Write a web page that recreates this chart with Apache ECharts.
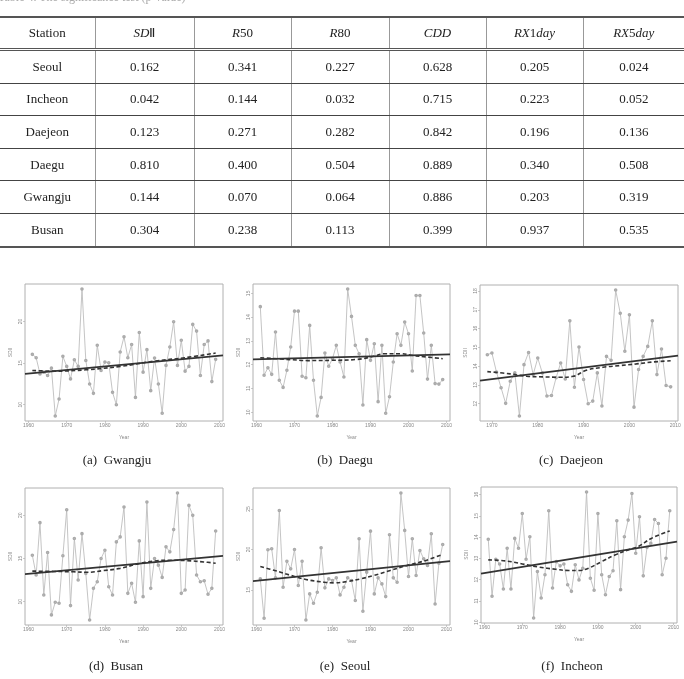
<!DOCTYPE html>
<html><head><meta charset="utf-8">
<script src="https://cdn.jsdelivr.net/npm/echarts@6.0.0/dist/echarts.min.js"></script>
<style>
html,body{margin:0;padding:0;background:#fff;width:684px;height:679px;overflow:hidden;}
#chart{position:absolute;left:0;top:0;width:684px;height:679px;}
#cap{position:absolute;left:-2px;top:-10px;font:12px 'Liberation Serif',serif;color:#aaa;white-space:nowrap;}
#tbl{position:absolute;left:0;top:16px;width:684px;border-collapse:collapse;font-family:'Liberation Serif',serif;font-size:13px;color:#222;table-layout:fixed;}
#tbl th,#tbl td{text-align:center;padding:0;border-left:1px solid #999;}
#tbl th:first-child,#tbl td:first-child{border-left:none;}
#tbl th{font-weight:normal;height:30px;border-top:2px solid #555;border-bottom:3px double #555;}
#tbl td{height:31.6px;border-bottom:1px solid #444;}
#tbl tr:last-child td{border-bottom:2px solid #555;}
#tbl i{font-style:italic;}
</style>
</head><body>
<div id="chart"></div>
<div id="cap">Table 4. The significance test (p-value)</div>
<table id="tbl"></table>
<script>
// ---------- table data ----------
const stations = ['Seoul','Incheon','Daejeon','Daegu','Gwangju','Busan'];
const pSDII  = ['0.162','0.042','0.123','0.810','0.144','0.304'];
const pR50   = ['0.341','0.144','0.271','0.400','0.070','0.238'];
const pR80   = ['0.227','0.032','0.282','0.504','0.064','0.113'];
const pCDD   = ['0.628','0.715','0.842','0.889','0.886','0.399'];
const pRX1   = ['0.205','0.223','0.196','0.340','0.203','0.937'];
const pRX5   = ['0.024','0.052','0.136','0.508','0.319','0.535'];
const headers = ['Station','<i>SD</i>Ⅱ','<i>R</i>50','<i>R</i>80','<i>CDD</i>','<i>RX</i>1<i>day</i>','<i>RX</i>5<i>day</i>'];
const colWidths = [95,99,97,98,97,97,101];

// ---------- chart data ----------
const yearsFull = [1961,1962,1963,1964,1965,1966,1967,1968,1969,1970,1971,1972,1973,1974,1975,1976,1977,1978,1979,1980,
  1981,1982,1983,1984,1985,1986,1987,1988,1989,1990,1991,1992,1993,1994,1995,1996,1997,1998,1999,2000,
  2001,2002,2003,2004,2005,2006,2007,2008,2009];
const yearsDaejeon = yearsFull.slice(8);
const xTicksFull = [1960,1970,1980,1990,2000,2010];
const xTicksDaejeon = [1970,1980,1990,2000,2010];

const sdiiGwangju = [16.05,15.65,13.70,13.91,13.50,14.39,8.64,10.67,15.81,14.60,13.10,15.40,14.60,23.91,15.32,12.49,11.36,17.15,14.11,15.12,
  15.04,11.48,9.98,16.34,18.16,15.65,17.23,10.87,18.68,13.91,16.62,11.68,15.61,12.49,8.97,14.72,16.94,19.98,14.72,17.75,
  14.03,14.60,19.66,18.85,13.50,17.23,17.67,12.77,15.45];
const trendGwangju = [13.70,15.93];
const loessYearsGwangju = [1961,1967,1975,1984,1993,2001,2009];
const loessGwangju = [14.11,14.03,14.19,14.60,15.24,15.65,16.21];

const sdiiDaegu = [14.44,11.55,11.87,11.59,13.37,11.34,11.04,11.76,12.74,14.25,14.25,11.51,11.45,13.65,11.34,9.84,10.62,12.49,11.93,12.25,
  12.81,12.11,11.48,15.18,14.03,12.81,12.46,10.30,13.05,12.18,12.88,10.44,12.81,9.95,10.65,12.11,13.30,12.81,13.79,13.30,
  11.73,14.91,14.91,13.33,11.39,12.81,11.20,11.18,11.37];
const trendDaegu = [12.22,12.43];
const loessYearsDaegu = [1961,1969,1973.5,1979.6,1986.5,1990.9,1993.5,1997.8,2001.3,2004.8,2009];
const loessDaegu = [12.29,12.21,12.17,12.18,12.22,12.35,12.46,12.46,12.38,12.32,12.25];

const sdiiDaejeon = [14.61,14.70,13.68,12.85,12.02,13.20,13.64,11.35,14.08,14.73,13.55,14.43,13.64,12.41,12.44,13.38,14.17,13.32,16.41,12.88,
  15.02,13.29,12.00,12.14,13.64,11.88,14.52,14.31,18.05,16.81,14.79,16.73,11.82,13.82,14.52,15.05,16.41,13.55,14.91,12.97,12.90];
const trendDaejeon = [13.23,14.56];
const loessYearsDaejeon = [1969,1974,1977.6,1981.2,1984.8,1987.7,1990.6,1994.2,1997.8,2001.5,2005.1,2009];
const loessDaejeon = [13.71,13.59,13.46,13.43,13.41,13.46,13.78,13.94,14.03,14.12,14.22,14.29];

const sdiiBusan = [15.38,13.08,19.15,10.77,15.69,8.46,9.92,9.81,15.31,20.65,9.54,17.31,12.50,17.88,13.27,7.88,11.54,12.31,15.00,15.96,
  11.73,10.77,16.92,17.50,20.96,10.96,12.12,9.92,17.04,10.58,21.54,11.54,15.00,14.23,12.81,16.35,15.77,18.35,22.58,10.96,
  11.35,21.15,20.00,13.08,12.31,12.42,10.85,11.54,18.19];
const trendBusan = [13.19,15.31];
const loessYearsBusan = [1961,1966.6,1971.8,1975.3,1979.7,1984,1988.4,1992.8,1997.2,2001.5,2005.9,2009];
const loessBusan = [13.54,13.50,13.46,13.40,13.60,13.85,14.35,14.70,14.80,14.75,14.60,14.45];

const sdiiSeoul = [16.36,11.49,19.96,20.08,16.49,24.83,15.33,18.55,17.60,20.00,15.54,18.55,11.28,14.50,13.35,14.71,20.21,15.25,16.36,16.16,
  16.49,14.38,15.33,16.49,16.16,13.68,21.32,12.36,17.19,22.27,14.50,16.49,15.74,14.17,21.82,16.49,15.95,26.98,22.36,16.65,
  21.32,16.78,19.88,18.84,18.02,21.94,13.26,18.31,20.62];
const trendSeoul = [16.07,18.55];
const loessYearsSeoul = [1961,1964.8,1969.1,1973.5,1977.8,1980.4,1983.9,1987.4,1990.9,1995.2,1999.6,2003.9,2009];
const loessSeoul = [17.89,17.40,16.78,16.24,15.95,15.87,16.03,16.36,16.78,17.40,18.02,18.55,19.38];

const sdiiIncheon = [13.90,11.22,12.96,12.74,11.56,13.48,11.56,13.94,13.48,15.11,12.96,14.02,10.20,12.38,11.14,12.23,15.24,11.61,12.85,12.65,
  12.74,11.76,11.45,12.70,11.99,12.54,16.12,12.07,11.50,15.11,12.23,11.29,12.15,12.42,14.77,11.53,14.02,14.80,16.05,13.24,
  14.96,12.18,13.52,13.71,14.83,14.64,12.23,13.01,15.24];
const trendIncheon = [12.28,13.79];
const loessYearsIncheon = [1961,1965.7,1970,1974.4,1978.8,1982.3,1984.9,1987.5,1991,1994.5,1998,2000.6,2004.1,2009];
const loessIncheon = [12.93,12.88,12.74,12.59,12.49,12.43,12.43,12.54,12.85,13.16,13.40,13.55,13.94,14.29];

// ---------- build table ----------
(function(){
  const t = document.getElementById('tbl');
  let h = '<colgroup>' + colWidths.map(w=>'<col style="width:'+w+'px">').join('') + '</colgroup>';
  h += '<tr>' + headers.map(x=>'<th>'+x+'</th>').join('') + '</tr>';
  stations.forEach((s,i)=>{
    h += '<tr><td>'+s+'</td><td>'+pSDII[i]+'</td><td>'+pR50[i]+'</td><td>'+pR80[i]+'</td><td>'+pCDD[i]+'</td><td>'+pRX1[i]+'</td><td>'+pRX5[i]+'</td></tr>';
  });
  t.innerHTML = h;
})();

// ---------- panels ----------
const panels = [
  {cap:'(a)  Gwangju', years:yearsFull, vals:sdiiGwangju, trend:trendGwangju, ly:loessYearsGwangju, lv:loessGwangju, xt:xTicksFull, yt:[10,15,20],
   grid:{left:25,top:284,width:198,height:137}, cx:117, cy:461},
  {cap:'(b)  Daegu', years:yearsFull, vals:sdiiDaegu, trend:trendDaegu, ly:loessYearsDaegu, lv:loessDaegu, xt:xTicksFull, yt:[10,11,12,13,14,15],
   grid:{left:253,top:284,width:197,height:137}, cx:345, cy:461},
  {cap:'(c)  Daejeon', years:yearsDaejeon, vals:sdiiDaejeon, trend:trendDaejeon, ly:loessYearsDaejeon, lv:loessDaejeon, xt:xTicksDaejeon, yt:[12,13,14,15,16,17,18],
   grid:{left:480,top:285,width:198,height:136}, cx:571, cy:461},
  {cap:'(d)  Busan', years:yearsFull, vals:sdiiBusan, trend:trendBusan, ly:loessYearsBusan, lv:loessBusan, xt:xTicksFull, yt:[10,15,20],
   grid:{left:25,top:488,width:198,height:137}, cx:116, cy:667},
  {cap:'(e)  Seoul', years:yearsFull, vals:sdiiSeoul, trend:trendSeoul, ly:loessYearsSeoul, lv:loessSeoul, xt:xTicksFull, yt:[15,20,25],
   grid:{left:253,top:488,width:197,height:137}, cx:345, cy:667},
  {cap:'(f)  Incheon', years:yearsFull, vals:sdiiIncheon, trend:trendIncheon, ly:loessYearsIncheon, lv:loessIncheon, xt:xTicksFull, yt:[10,11,12,13,14,15,16],
   grid:{left:481,top:487,width:196,height:136}, cx:572, cy:667}
];

function ext(arr){ const mn=Math.min(...arr), mx=Math.max(...arr), p=(mx-mn)*0.04; return [mn-p, mx+p]; }

const grids=[], xAxes=[], yAxes=[], series=[], graphics=[];
const lab = {fontSize:5, color:'#888', fontFamily:'Liberation Sans'};
panels.forEach((p,i)=>{
  grids.push(Object.assign({show:true, borderColor:'#b0b0b0', borderWidth:1, containLabel:false}, p.grid));
  const xr = ext(p.years), yr = ext(p.vals);
  xAxes.push({type:'value', gridIndex:i, min:xr[0], max:xr[1],
    axisLine:{show:false}, splitLine:{show:false},
    axisTick:{show:true, length:2, lineStyle:{color:'#aaa', width:0.6}, customValues:p.xt},
    axisLabel:Object.assign({customValues:p.xt, margin:2, formatter:v=>String(v)}, lab),
    name:'Year', nameLocation:'middle', nameGap:14, nameTextStyle:lab});
  yAxes.push({type:'value', gridIndex:i, min:yr[0], max:yr[1],
    axisLine:{show:false}, splitLine:{show:false},
    axisTick:{show:true, length:2, lineStyle:{color:'#aaa', width:0.6}, customValues:p.yt},
    axisLabel:Object.assign({customValues:p.yt, margin:2, rotate:90, formatter:v=>String(v)}, lab),
    name:'SDII', nameLocation:'middle', nameGap:12, nameRotate:90, nameTextStyle:lab});
  series.push({type:'line', xAxisIndex:i, yAxisIndex:i, data:p.years.map((y,j)=>[y,p.vals[j]]),
    symbol:'emptyCircle', symbolSize:1.6, showSymbol:true,
    lineStyle:{color:'#bdbdbd', width:0.9}, itemStyle:{color:'#aaa', borderWidth:0.5}, silent:true, z:2});
  series.push({type:'line', xAxisIndex:i, yAxisIndex:i, data:[[xr[0],p.trend[0]],[xr[1],p.trend[1]]],
    symbol:'none', lineStyle:{color:'#333', width:1.8}, silent:true, z:3});
  series.push({type:'line', xAxisIndex:i, yAxisIndex:i, data:p.ly.map((y,j)=>[y,p.lv[j]]), smooth:0.4,
    symbol:'none', lineStyle:{color:'#333', width:1.6, type:[4,2.5]}, silent:true, z:4});
  graphics.push({type:'text', x:p.cx, y:p.cy, style:{text:p.cap, fill:'#222', font:'13px "Liberation Serif"', textAlign:'center', textVerticalAlign:'middle'}});
});

const chart = echarts.init(document.getElementById('chart'), null, {renderer:'canvas'});
chart.setOption({animation:false, backgroundColor:'#fff', grid:grids, xAxis:xAxes, yAxis:yAxes, series:series, graphic:graphics});
</script>
</body></html>
